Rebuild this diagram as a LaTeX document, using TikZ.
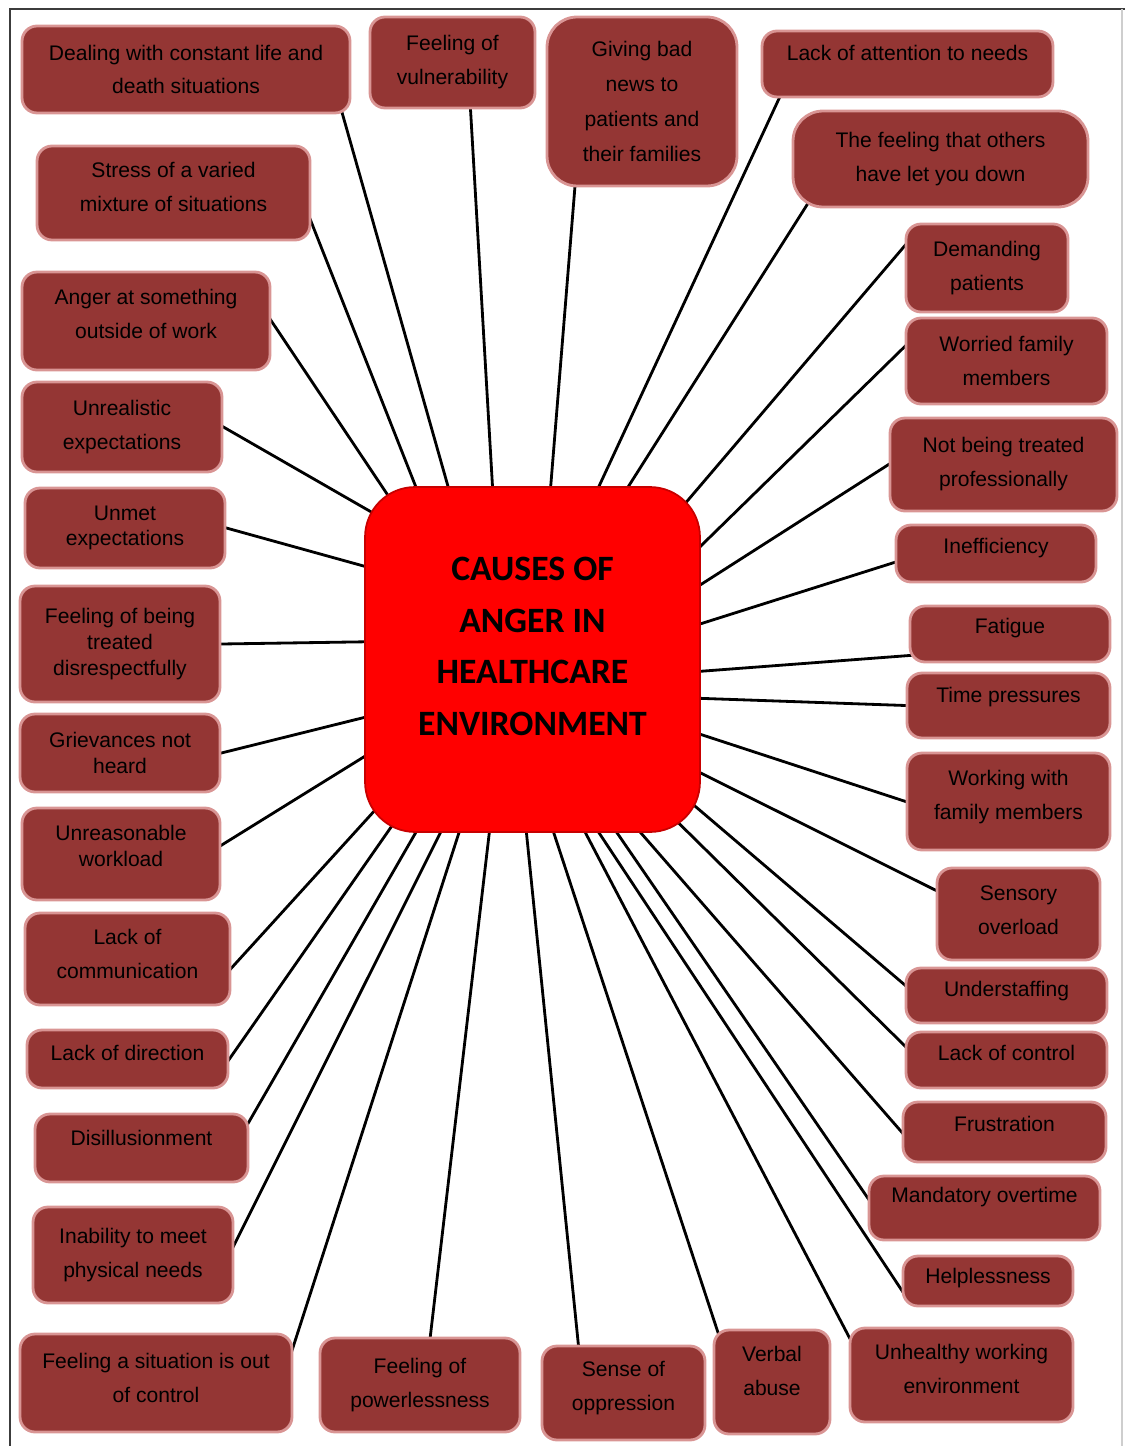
\documentclass[tikz,border=0pt]{standalone}
\usepackage{fontspec}
\setmainfont{Liberation Sans}
\newfontfamily\titlefont{Carlito}
\usepackage{tikz}
\usetikzlibrary{backgrounds}
\definecolor{causefill}{RGB}{148,54,52}
\definecolor{causeedge}{RGB}{217,149,148}
\definecolor{hubred}{RGB}{255,0,0}
\definecolor{hubedge}{RGB}{200,0,0}
\definecolor{framegray}{RGB}{60,60,60}
\tikzset{
  cause/.style={rectangle, draw=causeedge, fill=causefill, rounded corners=0.3cm,
    line width=1.6pt, align=center, inner sep=2pt, text=black,
    font=\fontsize{12}{19.3}\selectfont},
  tightlines/.style={font=\fontsize{12}{14.7}\selectfont},
  hub/.style={rectangle, draw=hubedge, fill=hubred, rounded corners=1cm, line width=1pt},
  hubtitle/.style={align=center, text=black, font=\titlefont\bfseries\fontsize{20.3}{29.5}\selectfont},
  spoke/.style={line width=1.6pt, color=black, shorten <=-0.15cm, shorten >=-0.5cm},
  frame/.style={line width=0.8pt, color=framegray}
}

\begin{document}
\begin{tikzpicture}[x=0.02cm, y=-0.02cm]
  \useasboundingbox (0,0) rectangle (1125,1446);

  % Centre
  \node[hub, minimum width=6.70cm, minimum height=6.90cm] (centre) at (532.5,659.5) {};
  \node[hubtitle] (title) at (532.5,646.5) {CAUSES OF\\ANGER IN\\HEALTHCARE\\ENVIRONMENT};

  % Top row
  \node[cause, minimum width=6.56cm, minimum height=1.74cm] (dealing) at (186,69.5) {Dealing with constant life and\\death situations};
  \node[cause, minimum width=3.30cm, minimum height=1.82cm] (vulner) at (452.5,62.5) {Feeling of\\vulnerability};
  \node[cause, minimum width=3.80cm, minimum height=3.38cm, rounded corners=0.6cm, font=\fontsize{12}{20}\selectfont] (givbad) at (642,101.5) {Giving bad\\news to\\patients and\\their families};
  \node[cause, minimum width=5.82cm, minimum height=1.32cm, text depth=12.5pt] (lackatt) at (907.5,64) {Lack of attention to needs};
  \node[cause, minimum width=5.90cm, minimum height=1.92cm, rounded corners=0.6cm] (letdown) at (940.5,159) {The feeling that others\\have let you down};

  % Left column
  \node[cause, minimum width=5.46cm, minimum height=1.88cm, text depth=6.8pt] (stress) at (173.5,193) {Stress of a varied\\mixture of situations};
  \node[cause, minimum width=4.96cm, minimum height=1.96cm, text depth=8pt] (anger) at (146,321) {Anger at something\\outside of work};
  \node[cause, minimum width=4.00cm, minimum height=1.80cm] (unreal) at (122,427) {Unrealistic\\expectations};
  \node[cause, tightlines, minimum width=4.00cm, minimum height=1.60cm] (unmet) at (125,528) {Unmet\\expectations};
  \node[cause, tightlines, minimum width=4.00cm, minimum height=2.32cm] (disresp) at (120,644) {Feeling of being\\treated\\disrespectfully};
  \node[cause, tightlines, minimum width=4.00cm, minimum height=1.56cm] (griev) at (120,753) {Grievances not\\heard};
  \node[cause, tightlines, minimum width=3.96cm, minimum height=1.84cm, text depth=9.1pt] (unreas) at (121,854) {Unreasonable\\workload};
  \node[cause, minimum width=4.10cm, minimum height=1.84cm, text depth=5.7pt] (lackcomm) at (127.5,959) {Lack of\\communication};
  \node[cause, minimum width=4.02cm, minimum height=1.16cm, text depth=6.8pt] (lackdir) at (127.5,1059) {Lack of direction};
  \node[cause, minimum width=4.26cm, minimum height=1.36cm, text depth=11.4pt] (disill) at (141.5,1148) {Disillusionment};
  \node[cause, minimum width=4.00cm, minimum height=1.92cm] (inabil) at (133,1255) {Inability to meet\\physical needs};

  % Bottom row
  \node[cause, minimum width=5.44cm, minimum height=1.96cm, text depth=5.7pt] (sitout) at (156,1383) {Feeling a situation is out\\of control};
  \node[cause, minimum width=4.00cm, minimum height=1.88cm] (powerl) at (420,1385) {Feeling of\\powerlessness};
  \node[cause, minimum width=3.26cm, minimum height=1.88cm, text depth=8.2pt] (sense) at (623.5,1393) {Sense of\\oppression};
  \node[cause, minimum width=2.32cm, minimum height=2.08cm, text depth=12.5pt] (verbal) at (772,1382) {Verbal\\abuse};
  \node[cause, minimum width=4.46cm, minimum height=1.88cm, text depth=6.8pt] (unhealthy) at (961.5,1375) {Unhealthy working\\environment};

  % Right column
  \node[cause, minimum width=3.24cm, minimum height=1.76cm] (demand) at (987,268) {Demanding\\patients};
  \node[cause, minimum width=4.02cm, minimum height=1.72cm] (worried) at (1006.5,361) {Worried family\\members};
  \node[cause, minimum width=4.54cm, minimum height=1.86cm] (notprof) at (1003.5,464.5) {Not being treated\\professionally};
  \node[cause, minimum width=4.00cm, minimum height=1.14cm, text depth=8.8pt] (ineff) at (996,553.5) {Inefficiency};
  \node[cause, minimum width=4.00cm, minimum height=1.12cm, text depth=9.3pt] (fatigue) at (1010,634) {Fatigue};
  \node[cause, minimum width=4.06cm, minimum height=1.30cm, text depth=12.2pt] (timepr) at (1008.5,705.5) {Time pressures};
  \node[cause, minimum width=4.06cm, minimum height=1.94cm, text depth=7.1pt] (workfam) at (1008.5,801.5) {Working with\\family members};
  \node[cause, minimum width=3.26cm, minimum height=1.84cm, text depth=4.6pt] (sensory) at (1018.5,914) {Sensory\\overload};
  \node[cause, minimum width=4.02cm, minimum height=1.10cm, text depth=7.6pt] (understaff) at (1006.5,995.5) {Understaffing};
  \node[cause, minimum width=4.02cm, minimum height=1.12cm, text depth=8pt] (lackctl) at (1006.5,1060) {Lack of control};
  \node[cause, minimum width=4.06cm, minimum height=1.20cm, text depth=9.1pt] (frustr) at (1004.5,1132) {Frustration};
  \node[cause, minimum width=4.62cm, minimum height=1.28cm, text depth=15pt] (mandat) at (984.5,1208) {Mandatory overtime};
  \node[cause, minimum width=3.40cm, minimum height=1.00cm, text depth=5.9pt] (helpl) at (988,1281) {Helplessness};

  % Spokes
  \begin{scope}[on background layer]
    \draw[frame] (10,1446) -- (10,9) -- (1125,9);
    \draw[frame, color=framegray!25] (1122,9) -- (1122,1446);

    \draw[spoke] (dealing.344) -- (centre.116);
    \draw[spoke] (vulner.291) -- (centre.103);
    \draw[spoke] (givbad.232) -- (centre.84);
    \draw[spoke] (lackatt.195) -- (centre.69);
    \draw[spoke] (letdown.200) -- (centre.61);
    \draw[spoke] (demand.165) -- (centre.46);
    \draw[spoke] (worried.172) -- (centre.34);
    \draw[spoke] (notprof.west) -- (centre.24);
    \draw[spoke] (ineff.185) -- (centre.12);
    \draw[spoke] (fatigue.192) -- (centre.356);
    \draw[spoke] (timepr.west) -- (centre.347);
    \draw[spoke] (workfam.west) -- (centre.336);
    \draw[spoke] (sensory.164) -- (centre.326);
    \draw[spoke] (understaff.174) -- (centre.318);
    \draw[spoke] (lackctl.172) -- (centre.312);
    \draw[spoke] (frustr.west) -- (centre.302);
    \draw[spoke] (mandat.175) -- (centre.296);
    \draw[spoke] (helpl.186) -- (centre.291);
    \draw[spoke] (unhealthy.161) -- (centre.287);
    \draw[spoke] (verbal.136) -- (centre.277);
    \draw[spoke] (sense.133) -- (centre.268);
    \draw[spoke] (powerl.78) -- (centre.256);
    \draw[spoke] (sitout.15) -- (centre.247);
    \draw[spoke] (inabil.6) -- (centre.242);
    \draw[spoke] (disill.14) -- (centre.236);
    \draw[spoke] (lackdir.east) -- (centre.230);
    \draw[spoke] (lackcomm.355) -- (centre.224);
    \draw[spoke] (unreas.5) -- (centre.210);
    \draw[spoke] (griev.east) -- (centre.199);
    \draw[spoke] (disresp.east) -- (centre.174);
    \draw[spoke] (unmet.east) -- (centre.151);
    \draw[spoke] (unreal.east) -- (centre.138);
    \draw[spoke] (anger.east) -- (centre.131);
    \draw[spoke] (stress.348) -- (centre.124);
  \end{scope}
\end{tikzpicture}
\end{document}
